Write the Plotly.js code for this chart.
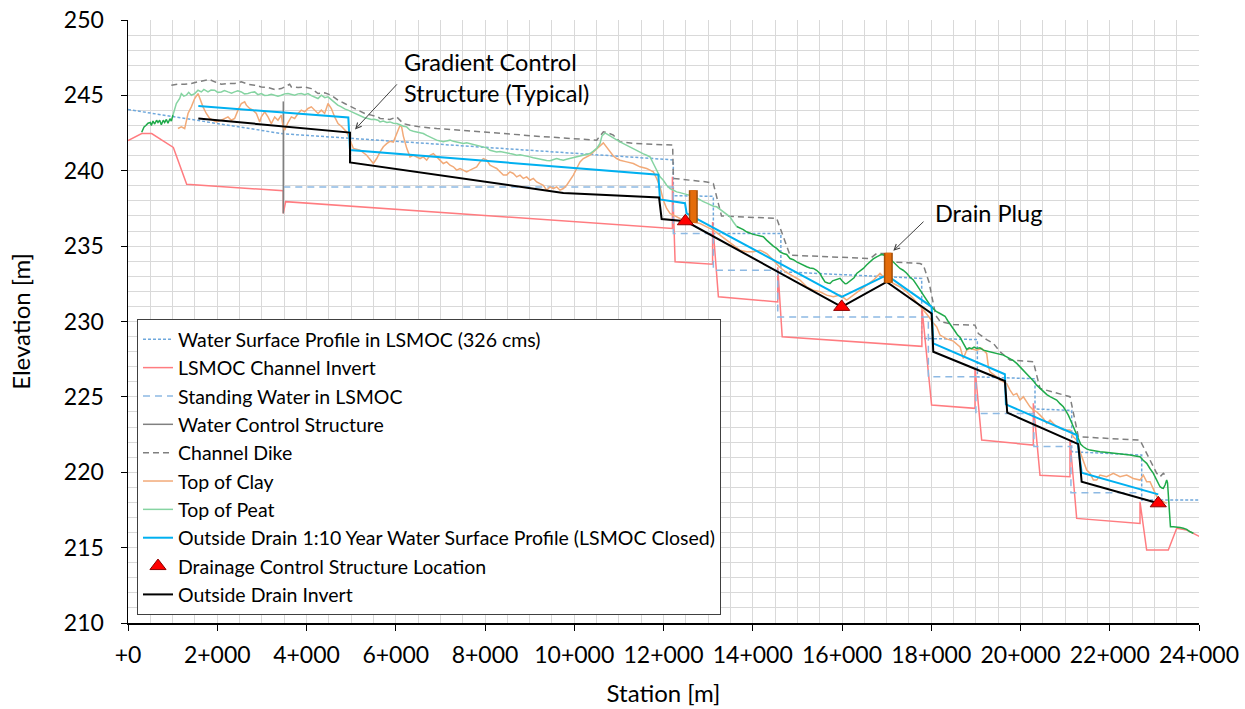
<!DOCTYPE html>
<html><head><meta charset="utf-8">
<script src="https://cdn.plot.ly/plotly-3.0.1.min.js"></script>
<style>html,body{margin:0;padding:0;background:#fff}#chart{width:1245px;height:709px}</style>
</head><body><div id="chart"></div>
<script>
// ---------- axis ticks ----------
const stationTicks = [0,2000,4000,6000,8000,10000,12000,14000,16000,18000,20000,22000,24000];
const stationLabels = ['+0','2+000','4+000','6+000','8+000','10+000','12+000','14+000','16+000','18+000','20+000','22+000','24+000'];

// ---------- Water Surface Profile in LSMOC (326 cms) ----------
const wspSta  = [0,3480,12220,12220,13117,13117,14630,14630,17786,17786,19033,19033,20325,20325,21147,21147,22716,22716,24000];
const wspElev = [244.06,242.45,240.72,238.35,238.30,235.84,235.84,233.30,232.86,228.88,228.80,226.33,226.20,224.20,224.10,221.36,221.14,218.16,218.16];

// ---------- LSMOC Channel Invert ----------
const invSta  = [0,307,530,1016,1315,3480,3480,3533,12200,12200,12260,13100,13100,13230,14560,14560,14660,17790,17790,18008,18981,18981,19130,20287,20287,20437,21109,21109,21259,22678,22678,22827,23312,23500,23724,24022];
const invElev = [242.0,242.47,242.47,241.55,239.1,238.67,237.17,237.95,236.17,239.6,233.96,233.8,236.6,231.64,231.3,233.6,228.99,228.35,230.97,224.46,224.24,226.89,222.14,221.8,224.57,219.8,219.7,222.14,216.94,216.6,218.04,214.84,214.84,216.28,216.17,215.72];

// ---------- Standing Water in LSMOC ----------
const swSta  = [3480,12220,12220,13117,13117,14560,14560,17935,17935,19000,19000,20300,20300,21130,21130,22700];
const swElev = [238.93,238.93,235.84,235.84,233.40,233.40,230.30,230.30,226.33,226.33,223.90,223.90,221.70,221.70,218.64,218.64];

// ---------- Water Control Structure ----------
const wcsSta  = [3480,3480];
const wcsElev = [244.6,237.17];

// ---------- Channel Dike ----------
const dikeSta  = [971,1120,1270,1419,1569,1718,1830,1942,2092,2241,2390,2540,2689,2839,2988,3137,3287,3436,3548,3623,3660,3810,3959,4108,4258,4407,4557,4706,4855,5005,5154,5304,5453,5603,5647,5871,6021,6170,6319,6544,6917,7664,8411,9158,9905,10503,10652,10727,10876,11025,11324,11698,12205,12220,12967,13117,13300,14536,14835,16628,16777,16927,17076,17748,17823,17950,18045,18100,18200,18495,18981,19055,19242,19392,19541,19765,20288,20437,21110,21297,22678,23052,23127,23201,23276];
const dikeElev = [245.67,245.74,245.74,245.79,245.90,245.96,246.05,245.90,245.74,245.79,245.79,245.90,245.74,245.67,245.56,245.52,245.39,245.45,245.61,245.74,245.56,245.52,245.56,245.45,245.12,245.17,245.01,244.68,244.46,244.24,244.02,243.80,243.69,243.57,243.47,243.40,243.57,243.13,243.02,242.91,242.80,242.65,242.47,242.29,242.14,242.03,242.58,242.55,242.36,241.92,241.81,241.76,241.70,239.49,239.26,239.15,237.0,236.84,234.40,234.18,234.51,234.51,233.96,233.85,233.74,232.6,231.2,230.4,230.0,229.8,229.76,229.2,228.8,228.55,227.99,227.44,227.33,225.56,225.01,222.35,222.13,219.93,219.70,219.93,219.70];

// ---------- Top of Clay ----------
const claySta  = [1120,1195,1270,1307,1345,1419,1494,1569,1606,1681,1755,1830,1905,1980,2092,2166,2241,2316,2390,2465,2540,2614,2652,2727,2801,2876,2951,2988,3063,3137,3212,3287,3361,3436,3470,3511,3585,3660,3735,3810,3884,3959,4034,4108,4183,4258,4333,4407,4482,4557,4631,4706,4781,4855,4901,4975,5050,5199,5349,5498,5573,5648,5722,5797,5871,5946,6021,6095,6133,6170,6245,6319,6394,6469,6544,6618,6693,6768,6842,6917,6992,7066,7141,7216,7291,7365,7440,7515,7589,7664,7739,7813,7888,7963,8038,8112,8187,8262,8336,8411,8486,8560,8635,8710,8785,8859,8934,9009,9083,9158,9233,9307,9382,9457,9532,9606,9681,9756,9830,9905,9980,10054,10129,10204,10279,10353,10428,10503,10577,10652,10727,10801,10876,10951,11025,11175,11324,11473,11623,11698,11772,11847,11922,11996,12071,12146,12295,12445,12594,12818,12967,13117,13266,13416,13565,13714,13864,14013,14163,14312,14461,14611,14760,14910,15059,15209,15358,15507,15656,15806,15956,16105,16254,16404,16553,16703,16852,16927,17001,17151,17300,17450,17599,17748,17898,18047,18122,18196,18346,18495,18645,18719,18794,18869,19018,19130,19242,19280,19317,19466,19541,19690,19765,19840,19915,19989,20064,20139,20213,20288,20363,20437,20512,20587,20662,20736,20811,20960,21110,21184,21259,21334,21409,21483,21558,21633,21707,21782,21931,22081,22230,22380,22529,22678,22753,22828,22903,22977,23052,23127,23201,23276];
const clayElev = [242.80,242.91,242.80,243.35,243.80,244.24,244.79,245.12,244.79,244.24,243.80,243.47,243.35,243.24,243.35,243.47,243.57,243.35,243.47,244.02,244.46,244.57,244.35,244.13,244.02,243.80,243.24,243.57,243.91,243.57,243.13,243.57,243.35,243.69,243.02,242.69,243.20,243.57,243.47,243.80,244.02,243.91,244.13,244.24,244.02,243.80,244.02,243.80,244.46,244.13,243.57,243.13,242.95,242.70,242.58,242.03,241.48,241.36,241.03,240.48,240.81,241.25,241.59,241.80,241.95,241.90,242.45,243.00,242.90,242.30,241.50,240.92,241.03,240.92,240.81,240.92,240.70,241.03,241.14,240.92,240.70,240.48,240.59,240.37,240.26,240.04,240.15,240.04,239.93,240.04,240.15,240.26,240.59,240.81,240.70,240.37,240.26,240.15,239.93,239.71,239.71,239.93,239.82,239.59,239.71,239.49,239.59,239.37,239.49,239.26,239.15,239.04,238.71,238.93,238.82,238.93,238.71,238.82,239.04,239.37,239.71,240.15,240.59,240.81,240.92,241.03,241.25,241.48,241.65,241.85,241.55,241.25,240.98,240.81,240.70,240.59,240.48,240.26,240.15,240.04,239.93,239.49,238.93,238.05,237.50,237.17,236.94,236.72,236.61,236.50,236.28,236.06,235.73,235.40,235.07,234.73,234.62,234.62,234.73,234.51,234.07,233.58,233.25,232.97,232.75,232.30,232.08,231.97,231.75,231.64,231.75,231.42,231.75,232.08,232.41,232.74,233.19,232.97,232.86,232.52,232.30,231.97,231.53,231.03,230.50,229.90,229.65,229.10,228.85,228.70,228.32,227.55,228.10,228.21,228.10,228.21,227.88,227.00,226.66,226.33,226.11,225.89,225.45,225.12,225.23,224.79,225.01,224.67,224.34,224.12,224.01,223.79,223.57,223.24,223.46,223.24,223.02,222.80,222.80,222.35,222.13,221.36,220.81,220.15,219.93,219.48,219.48,219.81,219.70,219.93,219.70,219.81,219.59,219.48,219.81,219.37,219.37,218.93,218.38,218.16,218.04,217.94];

// ---------- Top of Peat ----------
const peatSta  = [1008,1083,1158,1195,1250,1307,1360,1419,1494,1569,1643,1700,1793,1860,1942,2010,2092,2160,2241,2320,2390,2460,2540,2610,2689,2760,2839,2910,2988,3060,3137,3210,3287,3360,3436,3510,3586,3660,3735,3810,3884,3960,4034,4108,4183,4258,4333,4410,4482,4560,4631,4700,4781,4855,4930,5000,5080,5150,5229,5300,5378,5450,5520,5603,5647,5720,5800,5871,5946,6021,6095,6170,6245,6319,6394,6469,6544,6618,6693,6768,6842,6917,6992,7066,7141,7216,7291,7365,7440,7515,7589,7664,7739,7813,7888,7963,8038,8112,8187,8262,8336,8411,8486,8560,8635,8710,8785,8859,8934,9009,9083,9158,9233,9307,9382,9457,9532,9606,9681,9756,9830,9905,9980,10054,10129,10204,10279,10353,10428,10503,10577,10620,10652,10690,10727,10801,10876,10950,11025,11100,11175,11250,11324,11400,11473,11550,11623,11698,11772,11847,11922,11996,12071,12146,12220,12295,12370,12445,12520,12594,12670,12743,12820,12893,12970,13042,13120,13192,13270,13341,13420,13490,13565,13640];
const peatElev = [243.69,244.46,244.79,245.12,244.95,245.01,245.20,245.01,245.12,245.34,245.23,245.40,245.23,245.35,245.34,245.20,245.23,245.32,245.23,245.15,245.23,245.30,245.23,245.10,245.12,245.20,245.23,245.05,245.12,245.00,245.01,245.08,245.01,244.95,245.01,245.10,245.12,245.05,245.01,245.10,245.12,245.05,245.12,244.98,244.90,244.79,245.01,244.85,244.90,244.70,244.57,244.35,244.24,244.10,244.02,243.92,243.80,243.70,243.57,243.52,243.47,243.40,243.42,243.35,243.24,243.30,243.20,243.24,243.15,243.13,243.05,242.95,242.91,242.69,242.62,242.58,242.50,242.47,242.35,242.25,242.12,242.03,241.98,241.92,241.98,242.03,241.95,241.92,241.85,241.81,241.86,241.81,241.75,241.70,241.66,241.59,241.52,241.36,241.32,241.25,241.28,241.25,241.20,241.14,241.10,241.03,241.06,241.03,240.97,240.92,240.86,240.81,240.78,240.70,240.68,240.66,240.75,240.81,240.75,240.70,240.76,240.81,240.86,240.92,240.98,241.03,241.08,241.14,241.30,241.48,241.81,242.30,242.40,242.50,242.45,242.30,242.14,242.05,241.92,241.80,241.70,241.58,241.48,241.35,241.25,241.12,241.03,240.92,240.48,240.04,239.60,239.37,239.04,238.82,238.70,238.60,238.55,238.49,238.42,238.38,238.30,238.20,238.05,237.95,237.85,237.75,237.65,237.61,237.45,237.28,237.10,236.94,236.60,236.30];

// ---------- ground surface (dark green, not in legend) ----------
const groundWestSta  = [307,360,400,448,500,523,560,598,640,672,710,747,790,822,860,896,940,971,1008];
const groundWestElev = [242.55,242.9,243.0,243.15,243.2,243.0,243.3,243.1,243.35,243.2,243.35,243.05,243.35,243.2,243.4,243.15,243.45,243.3,243.7];
const groundEastSta  = [13640,13715,13789,13860,13939,14010,14088,14160,14237,14310,14387,14460,14536,14610,14686,14760,14835,14910,14984,15059,15130,15209,15280,15358,15430,15507,15560,15619,15680,15732,15790,15844,15900,15956,16000,16030,16070,16105,16160,16217,16270,16329,16400,16479,16550,16628,16700,16777,16840,16889,16950,17001,17080,17151,17230,17300,17370,17450,17520,17599,17670,17748,17820,17898,17970,18047,18120,18196,18260,18308,18370,18421,18480,18533,18590,18645,18719,18760,18794,18850,18906,18960,19018,19090,19168,19240,19317,19390,19466,19540,19616,19690,19765,19840,19915,19990,20064,20140,20213,20290,20363,20440,20512,20590,20662,20740,20811,20885,20960,21010,21072,21130,21184,21240,21296,21350,21409,21480,21558,21670,21782,21900,22006,22120,22230,22340,22454,22570,22678,22750,22828,22900,22977,23052,23100,23127,23170,23201,23239,23276,23295,23314,23340,23360,23425,23500,23575,23650,23724,23800,23874];
const groundEastElev = [236.30,236.20,236.10,235.95,235.84,235.78,235.73,235.70,235.62,235.40,235.18,235.00,234.85,234.62,234.51,234.45,234.18,234.10,233.96,233.85,233.70,233.63,233.55,233.52,233.40,233.19,232.90,232.63,232.55,232.52,232.70,232.74,232.80,232.86,232.70,232.63,232.50,232.52,232.65,232.74,232.90,233.19,233.35,233.52,233.75,233.96,234.15,234.29,234.38,234.45,234.40,234.34,234.15,233.96,233.75,233.52,233.40,233.20,232.95,232.75,232.45,232.10,231.70,231.40,231.10,230.85,230.65,230.53,230.45,230.35,230.05,229.85,229.55,229.35,229.10,228.95,228.55,228.30,228.15,228.25,228.20,228.30,228.21,228.25,228.10,228.05,227.99,227.95,227.88,227.82,227.77,227.65,227.55,227.40,227.22,227.00,226.78,226.55,226.33,226.05,225.78,225.55,225.34,225.15,225.01,224.90,224.79,224.55,224.34,224.10,223.79,223.40,223.02,222.55,222.13,221.85,221.69,221.55,221.47,221.40,221.36,221.32,221.29,221.25,221.21,221.18,221.14,221.08,221.03,220.80,220.59,220.25,219.93,219.48,219.20,219.04,218.95,218.93,219.15,219.48,219.30,218.40,216.70,216.39,216.39,216.37,216.34,216.28,216.21,216.05,215.95];

// ---------- Outside Drain 1:10 Year Water Surface Profile (LSMOC Closed) ----------
const odWspSta  = [1576,4937,4975,11884,11921,12482,12518,15993,17002,18008,18045,19650,19673,21259,21370,23087];
const odWspElev = [244.30,243.53,241.37,239.74,238.10,237.85,237.18,231.64,233.08,230.97,228.55,226.50,224.50,222.47,219.97,218.53];

// ---------- Outside Drain Invert ----------
const odInvSta  = [1576,4975,4975,9755,11900,11958,12500,15993,17002,18008,18045,19650,19703,21295,21370,23087];
const odInvElev = [243.47,242.53,240.55,238.53,238.23,236.80,236.65,230.97,232.63,230.53,227.99,226.05,223.95,221.87,219.37,217.94];

// ---------- Drainage Control Structure Location ----------
const dcsSta  = [12490,15993,23087];
const dcsElev = [236.65,230.97,217.94];

// ---------- Drain plugs (orange bars) ----------
const plugSta    = [12668,17038];
const plugTop    = [238.71,234.56];
const plugBottom = [236.55,232.57];

const FONT = 'Lato, Carlito, "Open Sans", sans-serif';

function lineTrace(x, y, name, color, width, dash, rank, extra) {
  const t = {x:x, y:y, type:'scatter', mode:'lines', name:name,
    line:{color:color, width:width, dash:dash||'solid'},
    legendgroup:'g'+rank, legendrank:rank, hoverinfo:'skip'};
  return Object.assign(t, extra||{});
}

const plugX = [], plugY = [];
plugSta.forEach((s,i)=>{ plugX.push(s,s,null); plugY.push(plugBottom[i],plugTop[i],null); });

const traces = [
  lineTrace(wspSta, wspElev, 'Water Surface Profile in LSMOC (326 cms)', '#6FA8DC', 1.5, '3px,2px', 1),
  lineTrace(invSta, invElev, 'LSMOC Channel Invert', '#FF7C80', 1.5, 'solid', 2),
  lineTrace(swSta, swElev, 'Standing Water in LSMOC', '#8DB9E3', 1.5, '7px,5px', 3),
  lineTrace(wcsSta, wcsElev, 'Water Control Structure', '#808080', 1.5, 'solid', 4),
  lineTrace(dikeSta, dikeElev, 'Channel Dike', '#7F7F7F', 1.5, '6px,4px', 5),
  lineTrace(claySta, clayElev, 'Top of Clay', '#F2AA78', 1.5, 'solid', 6),
  lineTrace(peatSta, peatElev, 'Top of Peat', '#86D4A2', 1.5, 'solid', 7),
  lineTrace(groundWestSta.concat([null], groundEastSta), groundWestElev.concat([null], groundEastElev), 'Ground', '#1FAA4A', 1.5, 'solid', 20, {showlegend:false}),
  lineTrace(odWspSta, odWspElev, 'Outside Drain 1:10 Year Water Surface Profile (LSMOC Closed)', '#00B0F0', 2, 'solid', 8),
  lineTrace(odInvSta, odInvElev, 'Outside Drain Invert', '#000000', 2, 'solid', 10),
  lineTrace(plugX, plugY, 'Drain Plug outline', '#A24E08', 9, 'solid', 21, {showlegend:false}),
  lineTrace(plugX, plugY, 'Drain Plug', '#E46C0A', 6, 'solid', 22, {showlegend:false}),
  {x:dcsSta, y:dcsElev, type:'scatter', mode:'markers', name:'Drainage Control Structure Location',
   marker:{symbol:'triangle-up', size:14, color:'#FF0000', line:{color:'#8B0000', width:1}},
   legendgroup:'g9', legendrank:9, hoverinfo:'skip'}
];

const layout = {
  width:1245, height:709,
  margin:{l:128, r:46, t:20, b:86},
  paper_bgcolor:'#ffffff', plot_bgcolor:'#ffffff',
  font:{family:FONT, color:'#000000', size:20},
  showlegend:true,
  hovermode:false,
  xaxis:{
    range:[0,24000], tickvals:stationTicks, ticktext:stationLabels,
    ticks:'outside', ticklen:6, tickcolor:'#000', tickwidth:1,
    showline:true, linecolor:'#000', linewidth:1.5,
    showgrid:true, gridcolor:'#D9D9D9', gridwidth:1, zeroline:false,
    minor:{dtick:500, showgrid:true, gridcolor:'#D9D9D9', gridwidth:1, ticks:''},
    tickfont:{family:FONT, size:23, color:'#000'},
    ticklabelstandoff:5,
    title:{text:'Station [m]', font:{family:FONT, size:24, color:'#000'}, standoff:18}
  },
  yaxis:{
    range:[210,250], dtick:5, tick0:210,
    ticks:'outside', ticklen:6, tickcolor:'#000', tickwidth:1,
    showline:true, linecolor:'#000', linewidth:1.5,
    showgrid:true, gridcolor:'#D9D9D9', gridwidth:1, zeroline:false,
    minor:{dtick:1, showgrid:true, gridcolor:'#D9D9D9', gridwidth:1, ticks:''},
    tickfont:{family:FONT, size:23, color:'#000'},
    ticklabelstandoff:12,
    title:{text:'Elevation [m]', font:{family:FONT, size:24, color:'#000'}, standoff:26}
  },
  legend:{
    x:0.0084, y:0.504, xanchor:'left', yanchor:'top',
    bgcolor:'#ffffff', bordercolor:'#404040', borderwidth:1,
    font:{family:FONT, size:19.5, color:'#000'},
    traceorder:'normal', tracegroupgap:5, itemwidth:30
  },
  annotations:[
    {x:6140, y:246.17, xref:'x', yref:'y', text:'Gradient Control<br>Structure (Typical)', showarrow:false,
     xanchor:'left', yanchor:'middle', align:'left', font:{family:FONT, size:23.5, color:'#000'}},
    {x:5087, y:242.74, ax:6057, ay:245.83, xref:'x', yref:'y', axref:'x', ayref:'y', text:'',
     showarrow:true, arrowhead:5, arrowsize:1.1, arrowwidth:1, arrowcolor:'#404040'},
    {x:18039, y:237.19, xref:'x', yref:'y', text:'Drain Plug', showarrow:false,
     xanchor:'left', yanchor:'middle', align:'left', font:{family:FONT, size:23.5, color:'#000'}},
    {x:17150, y:234.69, ax:17860, ay:236.72, xref:'x', yref:'y', axref:'x', ayref:'y', text:'',
     showarrow:true, arrowhead:5, arrowsize:1.1, arrowwidth:1, arrowcolor:'#404040'}
  ]
};

Plotly.newPlot('chart', traces, layout, {displayModeBar:false, staticPlot:true});
</script></body></html>
